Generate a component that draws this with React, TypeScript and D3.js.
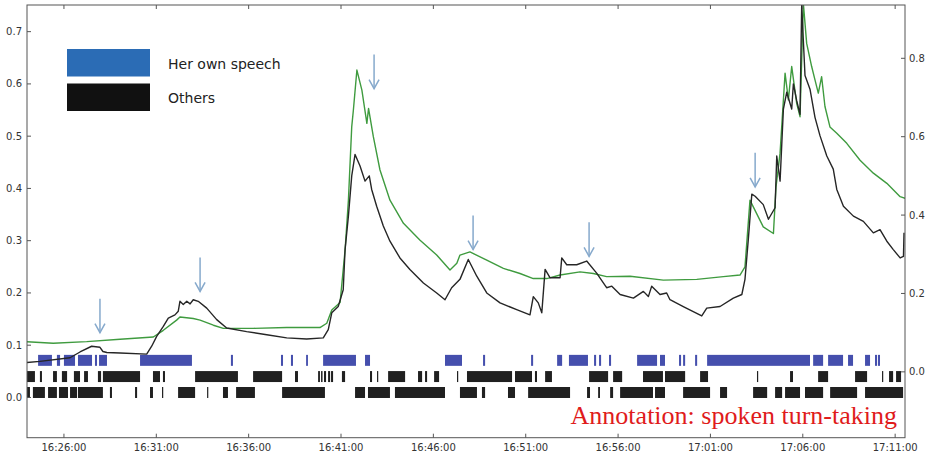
import React, { useEffect, useRef } from "react";
import * as d3 from "d3";

// minutes after 16:00, value (left axis)
const othersLevel: [number, number][] = [
  [24.0, 0.067], [24.7, 0.069], [26.33, 0.076], [26.87, 0.087], [27.5, 0.098], [27.95, 0.096],
  [28.11, 0.088], [28.32, 0.086], [29.04, 0.085], [30.48, 0.083], [30.75, 0.098], [31.02, 0.117],
  [31.38, 0.136], [31.65, 0.152], [32.01, 0.158], [32.19, 0.165], [32.28, 0.184], [32.46, 0.178],
  [32.65, 0.184], [32.83, 0.179], [33.0, 0.187], [33.27, 0.184], [33.73, 0.171], [34.27, 0.149],
  [34.81, 0.133], [35.89, 0.126], [36.98, 0.12], [38.06, 0.114], [39.14, 0.112], [40.04, 0.114],
  [40.31, 0.13], [40.5, 0.162], [40.85, 0.174], [41.12, 0.206], [41.22, 0.283], [41.4, 0.347],
  [41.58, 0.424], [41.76, 0.465], [42.03, 0.443], [42.3, 0.414], [42.53, 0.424], [42.66, 0.398],
  [42.93, 0.366], [43.29, 0.328], [43.65, 0.299], [44.19, 0.267], [44.73, 0.245], [45.46, 0.219],
  [46.18, 0.2], [46.63, 0.187], [46.99, 0.21], [47.44, 0.226], [47.89, 0.264], [48.35, 0.232],
  [48.89, 0.2], [49.61, 0.181], [50.51, 0.168], [51.23, 0.158], [51.41, 0.193], [51.68, 0.181],
  [51.87, 0.162], [52.05, 0.245], [52.32, 0.229], [52.86, 0.229], [52.95, 0.267], [53.22, 0.254],
  [53.76, 0.254], [54.3, 0.261], [54.84, 0.238], [55.38, 0.21], [55.66, 0.213], [56.11, 0.197],
  [56.83, 0.19], [57.37, 0.203], [57.64, 0.193], [57.82, 0.213], [58.27, 0.197], [58.63, 0.2],
  [58.81, 0.187], [59.53, 0.174], [60.53, 0.156], [60.8, 0.171], [61.52, 0.174], [62.24, 0.19],
  [62.7, 0.197], [62.87, 0.226], [63.05, 0.302], [63.24, 0.389], [63.42, 0.385], [63.86, 0.369],
  [64.14, 0.341], [64.5, 0.363], [64.59, 0.462], [64.77, 0.414], [64.95, 0.552], [65.13, 0.584],
  [65.4, 0.552], [65.49, 0.6], [65.67, 0.568], [65.85, 0.542], [65.94, 0.75], [66.12, 0.616],
  [66.39, 0.59], [66.66, 0.536], [66.93, 0.501], [67.3, 0.462], [67.65, 0.437], [67.84, 0.398],
  [68.2, 0.366], [68.74, 0.347], [69.28, 0.337], [69.82, 0.315], [70.18, 0.321], [70.55, 0.299],
  [70.9, 0.283], [71.27, 0.267], [71.45, 0.27], [71.48, 0.315],
];

// minutes after 16:00, value (right axis)
const ownLevel: [number, number][] = [
  [24.0, 0.077], [25.42, 0.073], [27.23, 0.077], [29.04, 0.083], [30.84, 0.089], [31.38, 0.106],
  [32.1, 0.132], [32.28, 0.14], [33.0, 0.136], [33.37, 0.132], [34.09, 0.119], [34.63, 0.111],
  [36.25, 0.111], [38.06, 0.113], [39.86, 0.113], [40.23, 0.124], [40.5, 0.158], [40.95, 0.177],
  [41.22, 0.311], [41.4, 0.438], [41.58, 0.625], [41.67, 0.668], [41.86, 0.77], [42.13, 0.719],
  [42.4, 0.634], [42.49, 0.672], [42.75, 0.6], [43.11, 0.515], [43.65, 0.438], [44.38, 0.379],
  [45.28, 0.336], [46.18, 0.298], [46.9, 0.26], [47.27, 0.277], [47.44, 0.298], [47.98, 0.306],
  [48.89, 0.285], [49.79, 0.264], [50.69, 0.251], [51.41, 0.238], [52.14, 0.238], [52.86, 0.247],
  [53.94, 0.255], [54.66, 0.251], [55.38, 0.243], [56.65, 0.244], [58.45, 0.234], [60.26, 0.236],
  [61.7, 0.243], [62.6, 0.247], [62.87, 0.268], [63.14, 0.438], [63.32, 0.421], [63.86, 0.37],
  [64.41, 0.353], [64.55, 0.472], [64.77, 0.558], [65.04, 0.762], [65.22, 0.694], [65.4, 0.779],
  [65.67, 0.685], [65.85, 0.651], [66.03, 0.94], [66.21, 0.838], [66.48, 0.779], [66.66, 0.745],
  [66.84, 0.711], [67.02, 0.753], [67.2, 0.677], [67.47, 0.625], [67.84, 0.609], [68.38, 0.583],
  [69.1, 0.54], [69.82, 0.507], [70.55, 0.481], [71.27, 0.447], [71.54, 0.443],
];

// speech turns: [start, end] in minutes after 16:00
const herSpeech: [number, number][] = [
  [24.6, 25.35], [25.62, 25.79], [26.0, 26.6], [26.76, 27.52], [27.68, 27.79], [27.9, 28.33],
  [30.12, 32.93], [35.04, 35.15], [37.75, 37.86], [38.29, 38.4], [39.11, 39.21], [40.03, 41.81],
  [42.3, 42.57], [46.63, 47.55], [48.69, 48.8], [51.29, 51.4], [52.7, 52.97], [53.34, 54.37],
  [54.7, 54.81], [54.97, 55.08], [55.51, 55.62], [57.03, 58.11], [58.27, 58.54], [59.3, 59.41],
  [59.52, 59.63], [60.17, 60.28], [60.82, 66.39], [66.56, 67.1], [67.37, 68.18], [68.45, 68.72],
  [69.37, 69.64], [69.91, 70.02], [70.07, 70.18],
];

const othersSpeechA: [number, number][] = [
  [24.0, 24.43], [24.7, 24.81], [25.41, 25.62], [25.89, 26.17], [26.54, 26.87], [27.09, 27.3],
  [27.84, 28.01], [28.11, 30.12], [30.82, 31.2], [31.36, 31.47], [33.1, 35.42], [36.24, 37.81],
  [38.51, 38.67], [39.76, 39.86], [39.92, 40.0], [40.08, 40.19], [40.3, 40.41], [40.46, 40.57],
  [41.05, 41.22], [42.57, 42.68], [42.95, 43.0], [43.55, 44.47], [45.17, 45.39], [45.55, 45.66],
  [46.04, 46.31], [47.28, 47.34], [47.82, 50.26], [50.42, 51.34], [51.5, 51.61], [52.05, 52.42],
  [54.43, 55.46], [55.73, 56.22], [57.35, 58.43], [58.54, 59.63], [60.44, 60.87], [63.52, 63.58],
  [65.31, 65.47], [66.83, 67.37], [68.83, 69.48], [70.29, 70.35], [70.67, 70.89], [71.05, 71.32],
];

const othersSpeechB: [number, number][] = [
  [24.0, 24.16], [24.32, 24.97], [25.14, 25.62], [25.73, 26.22], [26.33, 26.71], [26.76, 28.11],
  [28.49, 28.6], [29.85, 29.96], [30.66, 30.82], [31.31, 31.36], [32.18, 33.1], [33.75, 33.8],
  [34.61, 34.88], [35.32, 36.34], [37.81, 40.13], [41.76, 42.3], [42.46, 43.65], [43.92, 46.63],
  [47.44, 48.36], [48.63, 48.8], [50.04, 50.42], [51.13, 53.4], [54.32, 54.48], [54.92, 55.02],
  [55.57, 55.73], [56.11, 57.89], [58.0, 58.54], [59.52, 60.98], [61.52, 61.9], [63.31, 64.07],
  [64.5, 64.88], [65.04, 65.85], [66.12, 67.1], [67.48, 68.94], [69.37, 71.43],
];

// arrows: [minutes after 16:00, tip value on left axis]
const arrowMarks: [number, number][] = [
  [27.95, 0.124], [33.37, 0.203], [42.79, 0.591], [48.15, 0.283], [54.43, 0.27], [63.42, 0.403],
];

const timeTicks = [
  "16:26:00", "16:31:00", "16:36:00", "16:41:00", "16:46:00",
  "16:51:00", "16:56:00", "17:01:00", "17:06:00", "17:11:00",
];
const leftTicks = [0.0, 0.1, 0.2, 0.3, 0.4, 0.5, 0.6, 0.7];
const rightTicks = [0.0, 0.2, 0.4, 0.6, 0.8];

const legendItems = [
  { label: "Her own speech", color: "#2b6cb5" },
  { label: "Others", color: "#111111" },
];

const parseTime = d3.timeParse("%H:%M:%S");
const base = parseTime("16:00:00") as Date;
const at = (m: number) => new Date(base.getTime() + m * 60000);

const App = () => {
  const ref = useRef<SVGSVGElement>(null);

  useEffect(() => {
    const W = 932;
    const H = 456;
    const left = 27, right = 905, top = 5, bottom = 437.7;

    const svg = d3.select(ref.current);
    svg.selectAll("*").remove();
    svg.attr("width", W).attr("height", H);

    const x = d3
      .scaleTime()
      .domain([at(24), parseTime("17:11:32") as Date])
      .range([left, right]);
    const yL = d3.scaleLinear().domain([-0.077, 0.751]).range([bottom, top]);
    const yR = d3.scaleLinear().domain([-0.168, 0.936]).range([bottom, top]);

    svg.append("rect").attr("width", W).attr("height", H).attr("fill", "#fff");

    svg
      .append("clipPath")
      .attr("id", "plot-clip")
      .append("rect")
      .attr("x", left)
      .attr("y", top)
      .attr("width", right - left)
      .attr("height", bottom - top);

    const plot = svg.append("g").attr("clip-path", "url(#plot-clip)");

    // speech turn rows
    const rowHalf = 0.0105;
    const rows = [
      { data: herSpeech, level: 0.071, color: "#3540a6" },
      { data: othersSpeechA, level: 0.040, color: "#0d0d0d" },
      { data: othersSpeechB, level: 0.0095, color: "#0d0d0d" },
    ];
    rows.forEach((r) => {
      plot
        .append("g")
        .selectAll("rect")
        .data(r.data)
        .enter()
        .append("rect")
        .attr("x", (d) => x(at(d[0])))
        .attr("width", (d) => Math.max(1.2, x(at(d[1])) - x(at(d[0]))))
        .attr("y", yL(r.level + rowHalf))
        .attr("height", yL(r.level - rowHalf) - yL(r.level + rowHalf))
        .attr("fill", r.color)
        .attr("opacity", 0.92);
    });

    // lines
    const lineL = d3
      .line<[number, number]>()
      .x((d) => x(at(d[0])))
      .y((d) => yL(d[1]));
    const lineR = d3
      .line<[number, number]>()
      .x((d) => x(at(d[0])))
      .y((d) => yR(d[1]));

    plot
      .append("path")
      .attr("d", lineR(ownLevel))
      .attr("fill", "none")
      .attr("stroke", "#3f9b3f")
      .attr("stroke-width", 1.4)
      .attr("stroke-linejoin", "round");

    plot
      .append("path")
      .attr("d", lineL(othersLevel))
      .attr("fill", "none")
      .attr("stroke", "#262626")
      .attr("stroke-width", 1.4)
      .attr("stroke-linejoin", "round");

    // arrows
    const arrows = svg.append("g").attr("stroke", "#86a9cc").attr("fill", "none").attr("stroke-width", 1.5);
    arrowMarks.forEach(([m, v]) => {
      const ax = x(at(m));
      const ay = yL(v);
      arrows.append("line").attr("x1", ax).attr("x2", ax).attr("y1", ay - 34).attr("y2", ay);
      arrows
        .append("polyline")
        .attr("points", `${ax - 5},${ay - 9} ${ax},${ay} ${ax + 5},${ay - 9}`);
    });

    // frame
    svg
      .append("rect")
      .attr("x", left)
      .attr("y", top)
      .attr("width", right - left)
      .attr("height", bottom - top)
      .attr("fill", "none")
      .attr("stroke", "#555")
      .attr("stroke-width", 1);

    const font = "DejaVu Sans, sans-serif";
    const tickColor = "#555";

    // x ticks
    const xt = svg.append("g");
    timeTicks.forEach((t) => {
      const tx = x(parseTime(t) as Date);
      xt.append("line").attr("x1", tx).attr("x2", tx).attr("y1", bottom).attr("y2", bottom - 4).attr("stroke", tickColor);
      xt.append("line").attr("x1", tx).attr("x2", tx).attr("y1", top).attr("y2", top + 4).attr("stroke", tickColor);
      xt.append("text")
        .attr("x", tx)
        .attr("y", 451)
        .attr("text-anchor", "middle")
        .attr("font-family", font)
        .attr("font-size", 10)
        .attr("fill", "#333")
        .text(t);
    });

    // left ticks
    const lt = svg.append("g");
    leftTicks.forEach((v) => {
      const ty = yL(v);
      lt.append("line").attr("x1", left).attr("x2", left + 4).attr("y1", ty).attr("y2", ty).attr("stroke", tickColor);
      lt.append("text")
        .attr("x", 22)
        .attr("y", ty + 3.5)
        .attr("text-anchor", "end")
        .attr("font-family", font)
        .attr("font-size", 10)
        .attr("fill", "#333")
        .text(d3.format(".1f")(v));
    });

    // right ticks
    const rt = svg.append("g");
    rightTicks.forEach((v) => {
      const ty = yR(v);
      rt.append("line").attr("x1", right).attr("x2", right - 4).attr("y1", ty).attr("y2", ty).attr("stroke", tickColor);
      rt.append("text")
        .attr("x", 909)
        .attr("y", ty + 3.5)
        .attr("text-anchor", "start")
        .attr("font-family", font)
        .attr("font-size", 10)
        .attr("fill", "#333")
        .text(d3.format(".1f")(v));
    });

    // legend
    const lg = svg.append("g");
    legendItems.forEach((item, i) => {
      const ly = 49 + i * 34.5;
      lg.append("rect")
        .attr("x", 67)
        .attr("y", ly)
        .attr("width", 83)
        .attr("height", 27.5)
        .attr("fill", item.color);
      lg.append("text")
        .attr("x", 168)
        .attr("y", ly + 19.5)
        .attr("font-family", font)
        .attr("font-size", 14)
        .attr("fill", "#222")
        .text(item.label);
    });

    // annotation
    svg
      .append("text")
      .attr("x", 897)
      .attr("y", 424)
      .attr("text-anchor", "end")
      .attr("font-family", "Liberation Serif, serif")
      .attr("font-size", 26)
      .attr("fill", "#e01b1b")
      .text("Annotation: spoken turn-taking");
  }, []);

  return <svg ref={ref} style={{ position: "absolute", left: 0, top: 0, display: "block" }} />;
};

export default App;
